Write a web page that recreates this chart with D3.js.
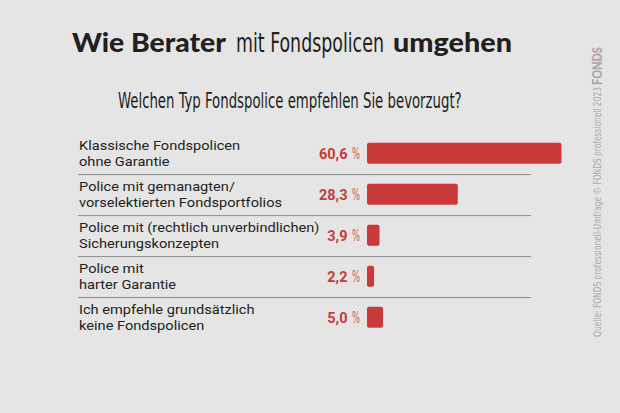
<!DOCTYPE html>
<html><head><meta charset="utf-8">
<script src="https://cdnjs.cloudflare.com/ajax/libs/d3/7.8.5/d3.min.js"></script>
<style>
html,body{margin:0;padding:0;background:#e5e5e5;}
svg{display:block;}
</style></head>
<body>
<script>
const categoriesLine1 = ["Klassische Fondspolicen","Police mit gemanagten/","Police mit (rechtlich unverbindlichen)","Police mit","Ich empfehle grundsätzlich"];
const categoriesLine2 = ["ohne Garantie","vorselektierten Fondsportfolios","Sicherungskonzepten","harter Garantie","keine Fondspolicen"];
const values = [60.6, 28.3, 3.9, 2.2, 5.0];
const valueLabels = ["60,6","28,3","3,9","2,2","5,0"];

const W = 620, H = 413;
const svg = d3.select("body").append("svg").attr("width", W).attr("height", H);
svg.append("rect").attr("width", W).attr("height", H).attr("fill", "#e5e5e5");

function fitText(sel, x, y, target, rot) {
  const w = sel.node().getComputedTextLength();
  const s = target / w;
  sel.attr("transform", `translate(${x},${y})` + (rot ? ` rotate(${rot})` : "") + ` scale(${s},1)`);
  return s;
}

const NARROW = "'Liberation Sans Narrow', 'DejaVu Sans Condensed', sans-serif";
const HEAVY = "Lato, Roboto, sans-serif";

// Title
const t1 = svg.append("text").text("Wie Berater").attr("font-family",HEAVY).attr("font-weight",900)
  .attr("font-size",26).attr("fill","#231f20");
fitText(t1, 72, 51.5, 154);
const t2 = svg.append("text").text("mit Fondspolicen").attr("font-family",NARROW)
  .attr("font-size",26).attr("fill","#231f20");
fitText(t2, 236, 51.5, 148);
const t3 = svg.append("text").text("umgehen").attr("font-family",HEAVY).attr("font-weight",900)
  .attr("font-size",26).attr("fill","#231f20");
fitText(t3, 393, 51.5, 119);

// Subtitle
const st = svg.append("text").text("Welchen Typ Fondspolice empfehlen Sie bevorzugt?")
  .attr("font-family",NARROW).attr("font-size",21).attr("fill","#231f20");
fitText(st, 118, 108, 344);

// Scales
const y = d3.scaleBand().domain(d3.range(values.length)).range([132.8, 337.8]).paddingInner(0).paddingOuter(0);
const x = d3.scaleLinear().domain([0, 60.6]).range([367, 561.5]);
const barH = 21;

// separators
svg.append("g").selectAll("line").data(d3.range(1, values.length)).join("line")
  .attr("x1", 78).attr("x2", 531)
  .attr("y1", i => y(i) + 0.8).attr("y2", i => y(i) + 0.8)
  .attr("stroke", "#8c8c8c").attr("stroke-width", 1);

const rows = svg.append("g").selectAll("g").data(values).join("g");

rows.append("rect")
  .attr("x", x(0)).attr("y", (d,i) => y(i) + y.bandwidth()/2 - barH/2)
  .attr("width", d => x(d) - x(0)).attr("height", barH)
  .attr("rx", 2).attr("fill", "#c93a3b");

// Category labels (two lines), uniform horizontal scale
const LFS = 13.4;
const l1 = rows.append("text").text((d,i) => categoriesLine1[i])
  .attr("font-family","Roboto, sans-serif").attr("font-size",LFS).attr("fill","#231f20");
const l2 = rows.append("text").text((d,i) => categoriesLine2[i])
  .attr("font-family","Roboto, sans-serif").attr("font-size",LFS).attr("fill","#231f20");
const labScale = 203 / l2.nodes()[1].getComputedTextLength();
l1.attr("transform", (d,i) => `translate(79,${y(i) + y.bandwidth()/2 - 3.3}) scale(${labScale},1)`);
l2.attr("transform", (d,i) => `translate(79,${y(i) + y.bandwidth()/2 + 12.9}) scale(${labScale},1)`);

// Value labels
const num = rows.append("text").text((d,i) => valueLabels[i]).attr("text-anchor","end")
  .attr("font-family","Roboto, sans-serif").attr("font-weight",700).attr("font-size",15.5).attr("fill","#c93a3b");
const numScale = 28.5 / num.nodes()[0].getComputedTextLength();
num.attr("transform", (d,i) => `translate(347.5,${y(i) + y.bandwidth()/2 + 5.5}) scale(${numScale},1)`);
const pct = rows.append("text").text("%").attr("text-anchor","end")
  .attr("font-family",NARROW).attr("font-size",15).attr("fill","#cf5556");
const pctScale = 8 / pct.nodes()[0].getComputedTextLength();
pct.attr("transform", (d,i) => `translate(360,${y(i) + y.bandwidth()/2 + 5.5}) scale(${pctScale},1)`);

// Vertical source + logo
const src = svg.append("text").text("Quelle: FONDS professionell-Umfrage © FONDS professionell 2023")
  .attr("font-family",NARROW).attr("font-size",11).attr("fill","#a9a9a9");
fitText(src, 601, 337, 250, -90);
const logo = svg.append("text").text("FONDS").attr("font-family",HEAVY).attr("font-weight",900)
  .attr("font-size",13).attr("fill","#a9a9a9");
fitText(logo, 602, 85, 38, -90);
const logo2 = svg.append("text").text("professionell").attr("font-family","Roboto, sans-serif")
  .attr("font-size",3).attr("fill","#d89a8a");
fitText(logo2, 599.5, 68, 18, -90);
</script>
</body></html>
